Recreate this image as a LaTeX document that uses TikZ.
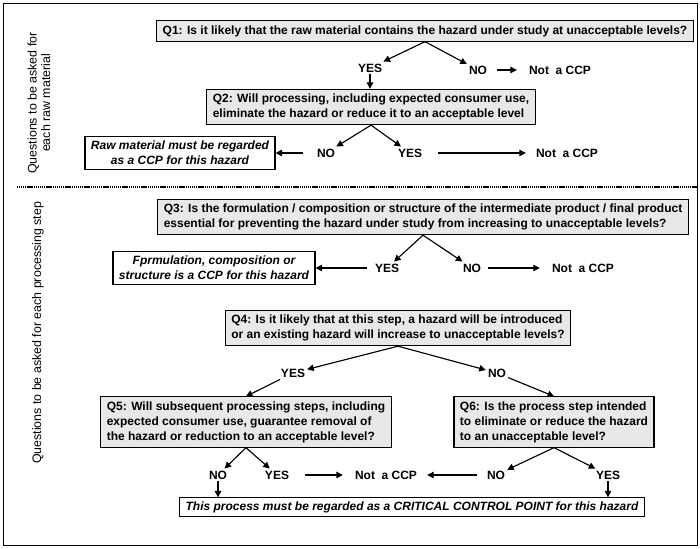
\documentclass[tikz,border=0pt]{standalone}
\usepackage{fontspec}
\setmainfont{Liberation Sans}
\usetikzlibrary{arrows.meta}
\tikzset{
	qbox/.style={draw, line width=0.4mm, fill=black!9, align=left, inner xsep=6pt, inner ysep=4.5pt, font=\bfseries\fontsize{12}{15}\selectfont},
	cbox/.style={draw, line width=0.4mm, fill=white, align=center, inner xsep=6pt, inner ysep=4.5pt, font=\bfseries\itshape\fontsize{12}{15}\selectfont},
	ans/.style={inner sep=2pt, font=\bfseries\fontsize{12}{15}\selectfont},
	side/.style={rotate=90, align=center, font=\fontsize{12.4}{13.5}\selectfont},
	arr/.style={-{Triangle[length=6.5pt,width=6.5pt]}, line width=0.4mm},
}

\begin{document}
\begin{tikzpicture}[x=1pt, y=-1pt]
		%%%%% START %%%%%
		\useasboundingbox (0, 0) rectangle (700, 548);
		\draw[line width=0.3mm] (3, 3) rectangle (697, 545);
		
		\node[side] (rawlbl) at (39, 103) {Questions to be asked for\\each raw material};
		\node[side] (steplbl) at (38, 333) {Questions to be asked for each processing step};
		
		\node[qbox] (q1) at (425, 31) {Q1: Is it likely that the raw material contains the hazard under study at unacceptable levels?};
		\node[ans] (yes1) at (370, 68) {YES};
		\node[ans] (no1) at (478, 70) {NO};
		\node[ans] (ncc1) at (560, 70) {Not\ \ a CCP};
		
		\node[qbox] (q2) at (371, 107) {Q2: Will processing, including expected consumer use,\\eliminate the hazard or reduce it to an acceptable level};
		\node[cbox] (raw) at (180, 153) {Raw material must be regarded\\as a CCP for this hazard};
		\node[ans] (no2) at (326, 153) {NO};
		\node[ans] (yes2) at (410, 153) {YES};
		\node[ans] (ncc2) at (567, 153) {Not\ \ a CCP};
		
		\draw[line width=0.9mm, dash pattern=on 1.2pt off 0.7pt] (17, 187) -- (697, 187);
		
		\node[qbox] (q3) at (423, 217) {Q3: Is the formulation / composition or structure of the intermediate product / final product\\essential for preventing the hazard under study from increasing to unacceptable levels?};
		\node[cbox] (form) at (214, 268) {Fprmulation, composition or\\structure is a CCP for this hazard};
		\node[ans] (yes3) at (387, 268) {YES};
		\node[ans] (no3) at (472, 268) {NO};
		\node[ans] (ncc3) at (583, 268) {Not\ \ a CCP};
		
		\node[qbox] (q4) at (398, 328) {Q4: Is it likely that at this step, a hazard will be introduced\\or an existing hazard will increase to unacceptable levels?};
		\node[ans] (yes4) at (293, 373) {YES};
		\node[ans] (no4) at (497, 373) {NO};
		
		\node[qbox] (q5) at (246, 422) {Q5: Will subsequent processing steps, including\\expected consumer use, guarantee removal of\\the hazard or reduction to an acceptable level?};
		\node[qbox] (q6) at (554, 422) {Q6: Is the process step intended\\to eliminate or reduce the hazard\\to an unacceptable level?};
		\node[ans] (no5) at (218, 475) {NO};
		\node[ans] (yes5) at (277, 475) {YES};
		\node[ans] (ncc4) at (386, 475) {Not\ \ a CCP};
		\node[ans] (no6) at (496, 475) {NO};
		\node[ans] (yes6) at (608, 475) {YES};
		
		\node[cbox, inner ysep=3.5pt] (ccp) at (412, 507) {This process must be regarded as a CRITICAL CONTROL POINT for this hazard};
		
		\draw[arr] (q1.south) -- (yes1);
		\draw[arr] (q1.south) -- (no1);
		\draw[arr] (yes1.south) -- (yes1.south |- q2.north);
		\draw[arr, shorten <=8pt, shorten >=10pt] (no1.east) -- (ncc1.west);
		
		\draw[arr] (q2.south) -- (no2);
		\draw[arr] (q2.south) -- (yes2);
		\draw[arr, shorten <=12pt] (no2.west) -- (raw.east);
		\draw[arr, shorten <=14pt, shorten >=8pt] (yes2.east) -- (ncc2.west);
		
		\draw[arr] (q3.south) -- (yes3);
		\draw[arr] (q3.south) -- (no3);
		\draw[arr, shorten <=6pt] (yes3.west) -- (form.east);
		\draw[arr, shorten <=5pt, shorten >=10pt] (no3.east) -- (ncc3.west);
		
		\draw[arr] (q4.south) -- (yes4);
		\draw[arr] (q4.south) -- (no4);
		\draw[arr] (yes4) -- (q5.north);
		\draw[arr] (no4) -- (q6.north);
		
		\draw[arr] (q5.south) -- (no5);
		\draw[arr] (q5.south) -- (yes5);
		\draw[arr] (no5.south) -- (no5.south |- ccp.north);
		\draw[arr, shorten <=14pt, shorten >=10pt] (yes5.east) -- (ncc4.west);
		
		\draw[arr] (q6.south) -- (no6);
		\draw[arr] (q6.south) -- (yes6);
		\draw[arr, shorten <=8pt, shorten >=8pt] (no6.west) -- (ncc4.east);
		\draw[arr] (yes6.south) -- (yes6.south |- ccp.north);
		%%%%% END %%%%%
\end{tikzpicture}
\end{document}
